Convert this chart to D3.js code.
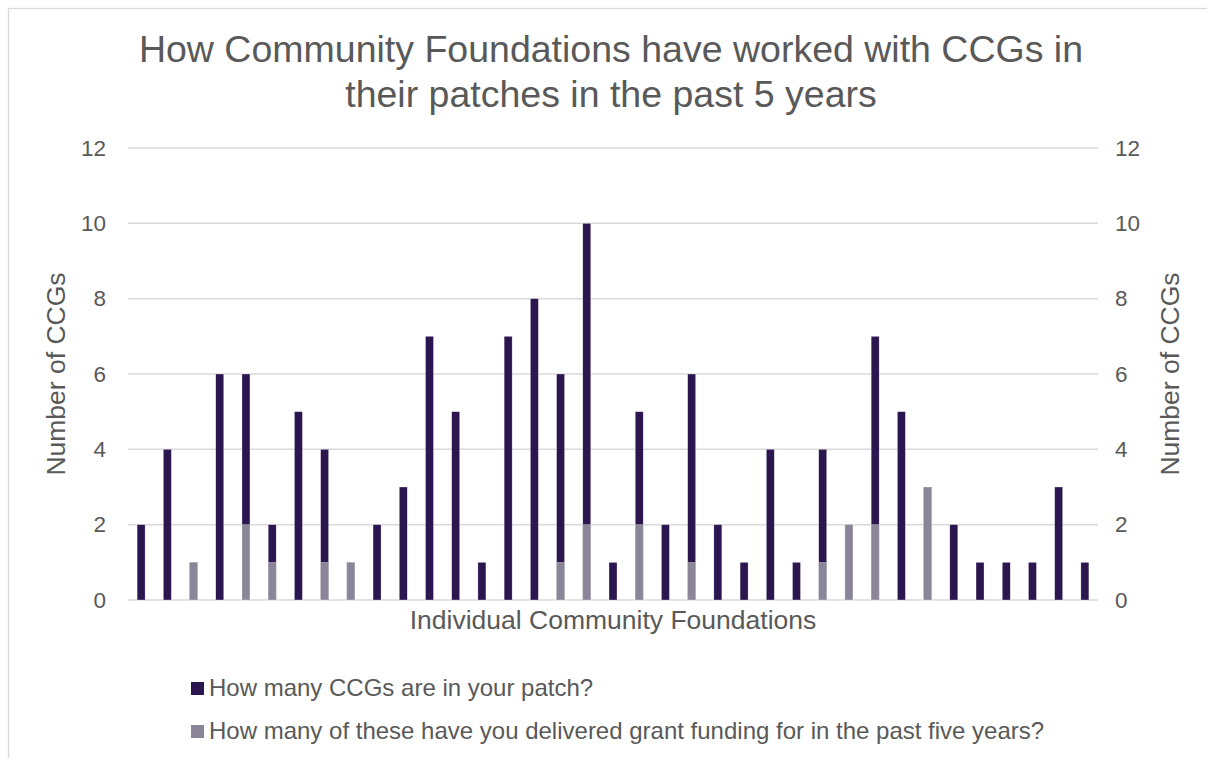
<!DOCTYPE html>
<html>
<head>
<meta charset="utf-8">
<script src="https://cdn.jsdelivr.net/npm/d3@7/dist/d3.min.js"></script>
<style>
  html, body { margin: 0; padding: 0; background: #fff; }
  svg { display: block; }
  text { font-family: "Liberation Sans", Arial, sans-serif; fill: #595959; }
</style>
</head>
<body>
<svg id="chart" width="1207" height="758"></svg>
<script>
// ---- Data ----
const categories = d3.range(1, 38).map(i => "CF " + i);
const ccgsInPatch = [2, 4, 1, 6, 6, 2, 5, 4, 1, 2, 3, 7, 5, 1, 7, 8, 6, 10, 1, 5, 2, 6, 2, 1, 4, 1, 4, 2, 7, 5, 3, 2, 1, 1, 1, 3, 1];
const grantFunded = [0, 0, 1, 0, 2, 1, 0, 1, 1, 0, 0, 0, 0, 0, 0, 0, 1, 2, 0, 2, 0, 1, 0, 0, 0, 0, 1, 2, 2, 0, 3, 0, 0, 0, 0, 0, 0];
const yTicks = [0, 2, 4, 6, 8, 10, 12];
const titleLines = ["How Community Foundations have worked with CCGs in", "their patches in the past 5 years"];
const xTitle = "Individual Community Foundations";
const yTitle = "Number of CCGs";
const seriesNames = ["How many CCGs are in your patch?", "How many of these have you delivered grant funding for in the past five years?"];
const seriesColors = ["#2b1650", "#8a8697"];

// ---- Layout ----
const svg = d3.select("#chart");
const L = 128, R = 1098, T = 148, B = 600;

svg.append("rect").attr("x", 8.5).attr("y", 8.5).attr("width", 1210).attr("height", 770)
  .attr("fill", "#fff").attr("stroke", "#d9d9d9").attr("stroke-width", 1.3);

const x = d3.scaleBand().domain(categories).range([L, R]).paddingInner(0.695).paddingOuter(0.3475);
const y = d3.scaleLinear().domain([0, 12]).range([B, T]);

// gridlines
svg.append("g").selectAll("line").data(yTicks).join("line")
  .attr("x1", L).attr("x2", R)
  .attr("y1", d => y(d)).attr("y2", d => y(d))
  .attr("stroke", "#d9d9d9").attr("stroke-width", 1.5);

// axes (labels only)
const leftAxis = d3.axisLeft(y).tickValues(yTicks).tickSize(0).tickPadding(22);
const gL = svg.append("g").attr("transform", `translate(${L},0)`).call(leftAxis);
const rightAxis = d3.axisRight(y).tickValues(yTicks).tickSize(0).tickPadding(17);
const gR = svg.append("g").attr("transform", `translate(${R},0)`).call(rightAxis);
[gL, gR].forEach(g => {
  g.select(".domain").remove();
  g.selectAll("text").attr("font-size", 22.5).attr("fill", "#595959")
    .style("font-family", '"Liberation Sans", Arial, sans-serif');
});

// bars
const barG = svg.append("g");
[ccgsInPatch, grantFunded].forEach((vals, si) => {
  barG.append("g").selectAll("rect").data(vals).join("rect")
    .attr("x", (d, i) => x(categories[i]))
    .attr("width", x.bandwidth())
    .attr("y", d => y(d))
    .attr("height", d => y(0) - y(d))
    .attr("fill", seriesColors[si])
    .attr("stroke", "#ffffff").attr("stroke-width", 0.5).attr("stroke-opacity", 0.6)
    .style("display", d => d > 0 ? null : "none");
});

// title
svg.append("g").selectAll("text").data(titleLines).join("text")
  .attr("x", 611).attr("y", (d, i) => 62 + i * 45)
  .attr("text-anchor", "middle").attr("font-size", 37.5).text(d => d);

// axis titles
svg.append("text").attr("x", 613).attr("y", 629).attr("text-anchor", "middle")
  .attr("font-size", 26.5).text(xTitle);
svg.append("text").attr("transform", `translate(65,${(T + B) / 2}) rotate(-90)`)
  .attr("text-anchor", "middle").attr("font-size", 26.5).text(yTitle);
svg.append("text").attr("transform", `translate(1179,${(T + B) / 2}) rotate(-90)`)
  .attr("text-anchor", "middle").attr("font-size", 26.5).text(yTitle);

// legend
const lg = svg.append("g").selectAll("g").data(seriesNames).join("g")
  .attr("transform", (d, i) => `translate(191,${682 + i * 43})`);
lg.append("rect").attr("width", 13).attr("height", 13).attr("fill", (d, i) => seriesColors[i]);
lg.append("text").attr("x", 18).attr("y", 14).attr("font-size", 24).text(d => d);
</script>
</body>
</html>
